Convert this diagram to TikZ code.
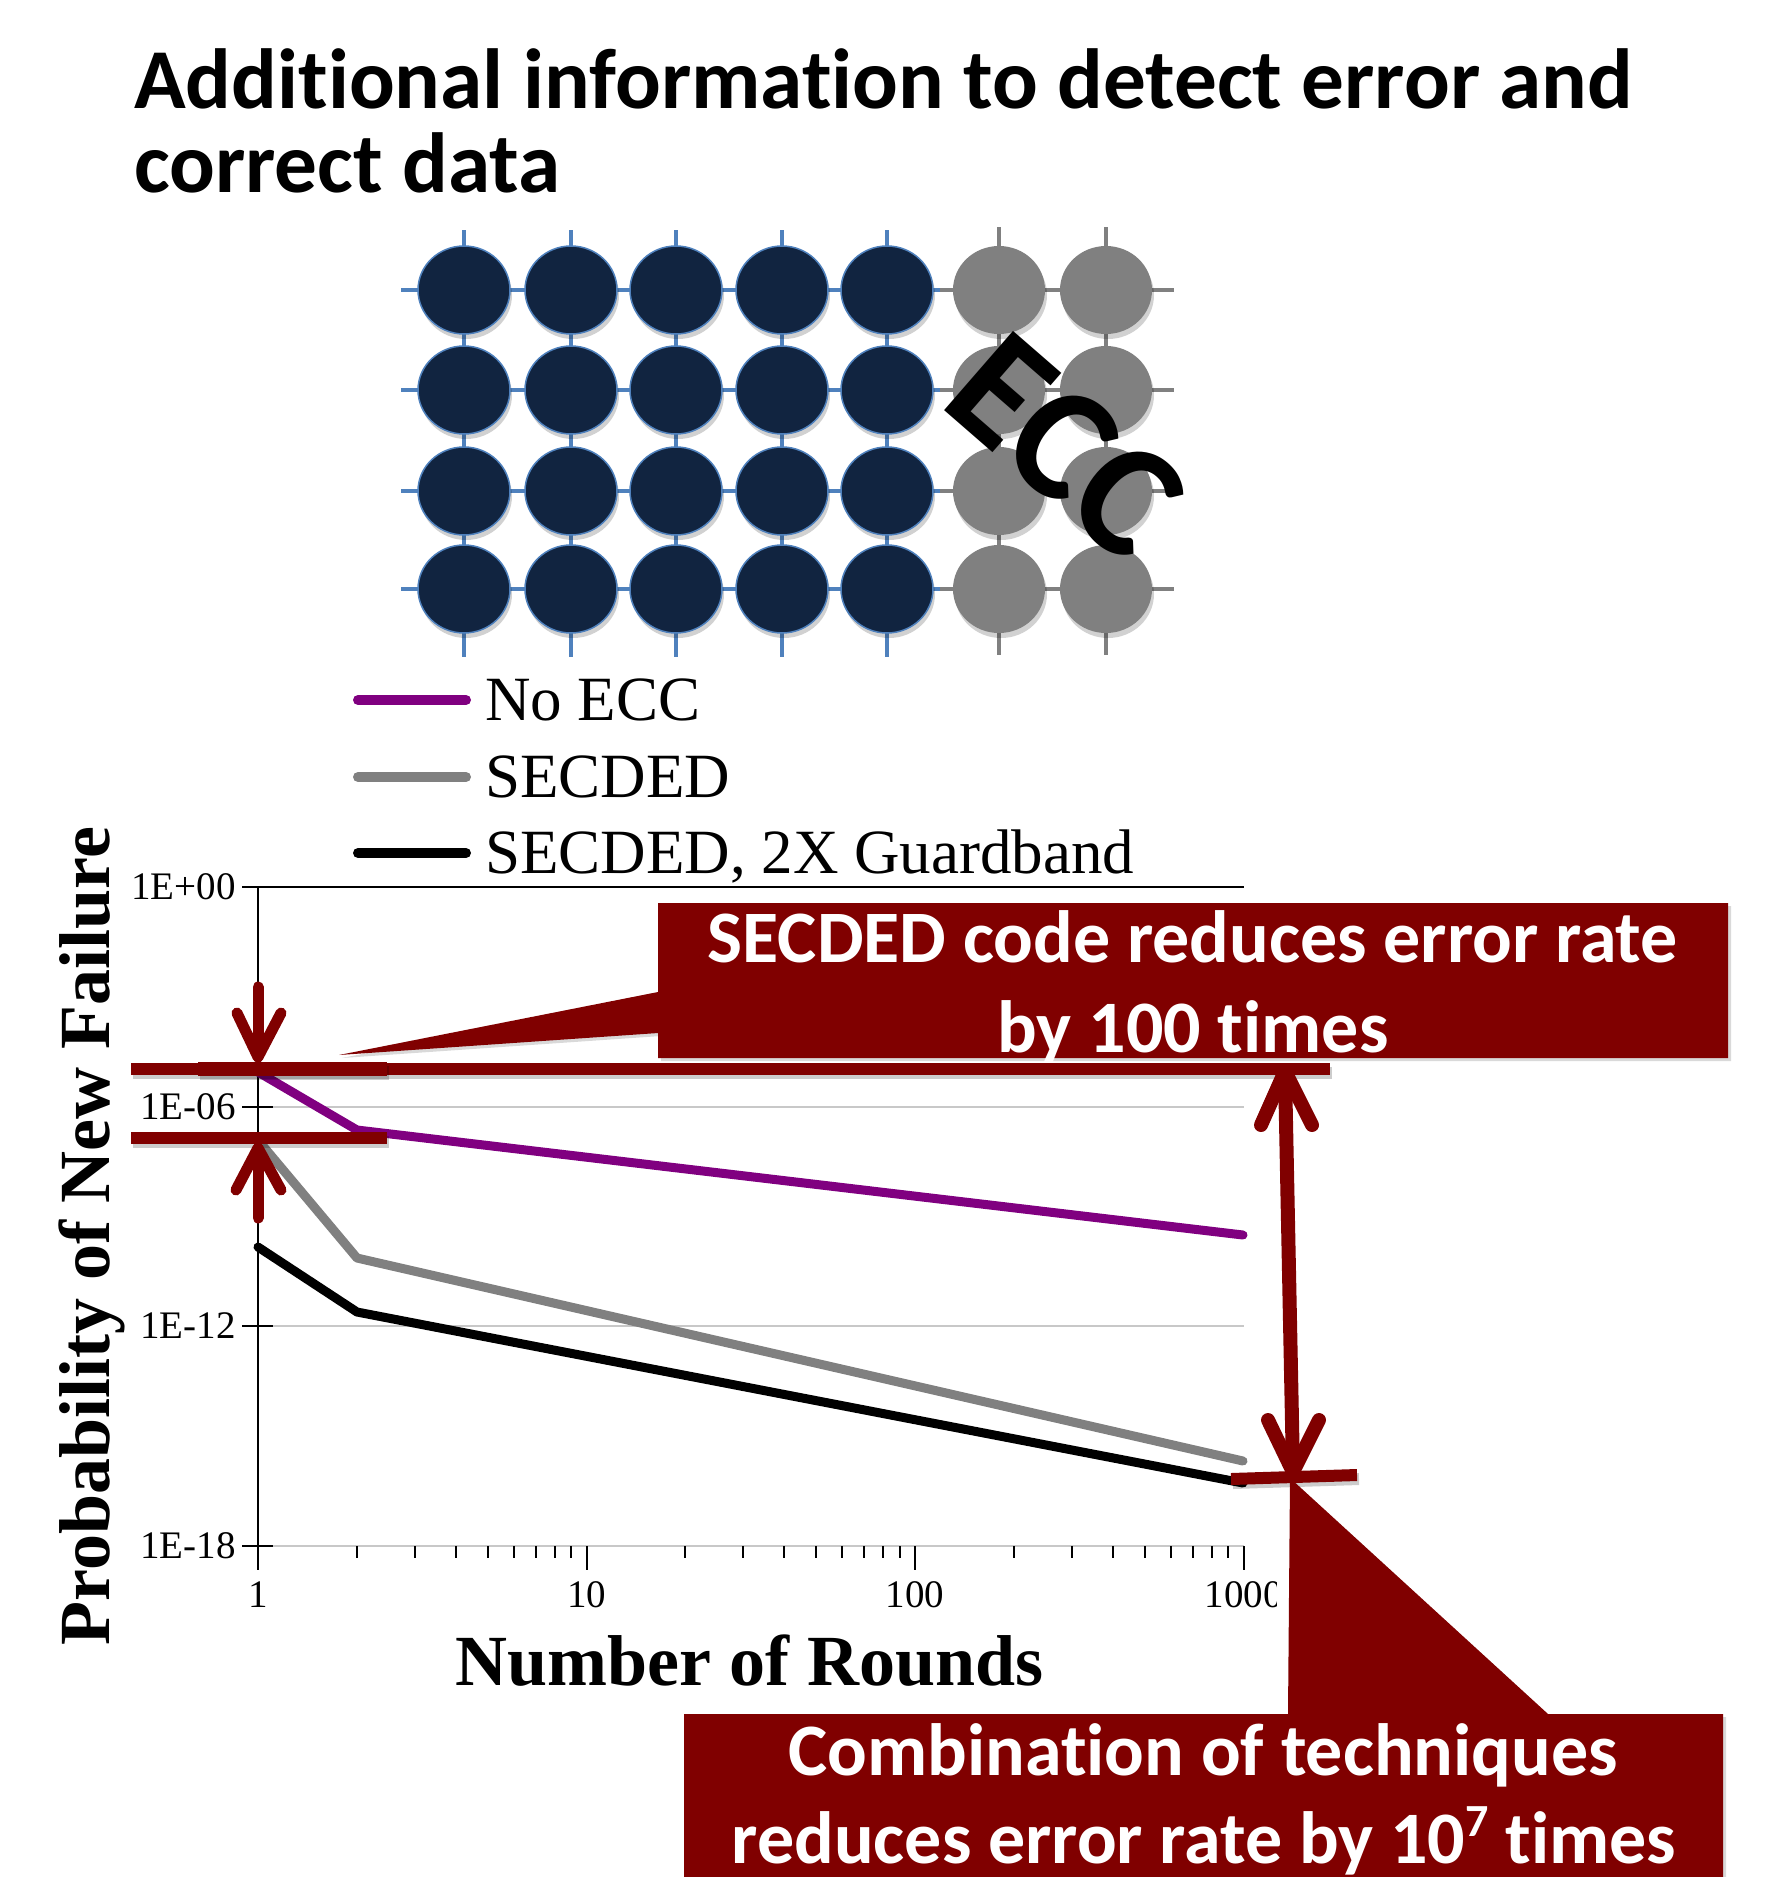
\documentclass[tikz,border=0pt]{standalone}
\usepackage{fontspec}
\setmainfont{Liberation Serif}
\newfontfamily\calib[Ligatures={NoCommon}]{Carlito}
\usetikzlibrary{shadows}
\definecolor{mred}{RGB}{128,0,0}
\definecolor{cnavy}{RGB}{17,36,64}
\definecolor{cblue}{RGB}{79,129,189}
\definecolor{cgrey}{RGB}{128,128,128}
\definecolor{cpurple}{RGB}{128,0,128}
\definecolor{cgridl}{RGB}{200,200,200}
\begin{document}
\begin{tikzpicture}[x=1pt,y=-1pt,
  titletext/.style={font=\calib\bfseries\fontsize{85.3}{85}\selectfont, anchor=base west, inner sep=0pt},
  bluegrid/.style={draw=cblue, line width=4pt},
  greygrid/.style={draw=cgrey, line width=4pt},
  navycell/.style={fill=cnavy, draw=cblue, line width=1.5pt},
  greycell/.style={fill=cgrey},
  cellshadow/.style={fill=black, opacity=0.18},
  legline/.style={line width=10pt, line cap=round},
  legtext/.style={font=\fontsize{63}{63}\selectfont, anchor=base west, inner sep=0pt},
  ticklab/.style={font=\fontsize{39}{39}\selectfont, inner sep=0pt},
  axistitle/.style={font=\bfseries\fontsize{72}{72}\selectfont, anchor=base, inner sep=0pt},
  dataline/.style={line width=9pt, line cap=round, line join=round},
  mbar/.style={draw=mred, line width=12pt},
  barshadow/.style={draw=black, opacity=0.2, line width=12pt},
  marrow/.style={draw=mred, line width=11pt, line cap=round, line join=round},
  bigarrow/.style={draw=mred, line width=14pt, line cap=round, line join=round},
  callout/.style={fill=mred, drop shadow={shadow xshift=3pt, shadow yshift=-3pt, opacity=0.3}},
  ctext/.style={font=\calib\bfseries\fontsize{74}{74}\selectfont, text=white, anchor=base, inner sep=0pt}
]
\useasboundingbox (0,0) rectangle (1770,1877);

% ---------- title ----------
\node[titletext] (t1) at (134,108) {Additional information to detect error and};
\node[titletext] (t2) at (134,192) {correct data};

% ---------- bit grid ----------
\foreach \x in {464,571,676,782,887} \draw[bluegrid] (\x,230) -- (\x,657);
\foreach \x in {999,1106} \draw[greygrid] (\x,227) -- (\x,655);
\foreach \y in {290,390,491,589} {
  \draw[bluegrid] (401,\y) -- (940,\y);
  \draw[greygrid] (940,\y) -- (1174,\y);
}
\foreach \x in {464,571,676,782,887} {
  \foreach \y in {290,390,491,589} {
    \fill[cellshadow] (\x+2,\y+5) ellipse [x radius=46, y radius=44];
    \filldraw[navycell] (\x,\y) ellipse [x radius=46, y radius=44];
  }
}
\foreach \x in {999,1106} {
  \foreach \y in {290,390,491,589} {
    \fill[cellshadow] (\x+2,\y+5) ellipse [x radius=46, y radius=44];
    \fill[greycell] (\x,\y) ellipse [x radius=46, y radius=44];
  }
}
\node[font=\calib\bfseries\fontsize{162}{162}\selectfont, rotate=-41, inner sep=0pt] (ecc) at (1066,446) {ECC};

% ---------- legend ----------
\draw[legline, cpurple] (358,700) -- (466,700);
\draw[legline, cgrey] (358,777) -- (466,777);
\draw[legline, black] (358,853) -- (466,853);
\node[legtext] (l1) at (485,720) {No ECC};
\node[legtext] (l2) at (485,797) {SECDED};
\node[legtext] (l3) at (485,873) {SECDED, 2X Guardband};

% ---------- chart ----------
\foreach \y in {1107,1326,1546} \draw[cgridl, line width=2.5pt] (258,\y) -- (1244,\y);
\draw[black, line width=2.5pt] (258,887) -- (1244,887);
\draw[black, line width=1.5pt] (258,887) -- (258,1570);
\foreach \y in {887,1107,1326,1546} \draw[black, line width=2pt] (242,\y) -- (273,\y);
\node[ticklab, anchor=base east] (y0) at (236,899) {1E+00};
\node[ticklab, anchor=base east] (y6) at (236,1119) {1E-06};
\node[ticklab, anchor=base east] (y12) at (236,1338) {1E-12};
\node[ticklab, anchor=base east] (y18) at (236,1558) {1E-18};
\foreach \d in {0,1,2} {
  \foreach \m in {2,...,9} {
    \pgfmathsetmacro{\xx}{258+328.5*(\d+log10(\m))}
    \draw[black, line width=2pt] (\xx,1546) -- (\xx,1558);
  }
}
\foreach \xx in {258,586.5,915,1243.5} \draw[black, line width=2pt] (\xx,1546) -- (\xx,1570);
\node[ticklab, anchor=base] (x1) at (258,1607) {1};
\node[ticklab, anchor=base] (x10) at (586.5,1607) {10};
\node[ticklab, anchor=base] (x100) at (915,1607) {100};
\begin{scope}
  \clip (1150,1560) rectangle (1276,1625);
  \node[ticklab, anchor=base] (x1000) at (1243.5,1607) {1000};
\end{scope}
\node[axistitle] (xt) at (750,1685) {Number of Rounds};
\node[axistitle, rotate=90] (yt) at (109,1236) {Probability of New Failure};

% data
\draw[dataline, cpurple] (258,1072) -- (357,1130) -- (1243,1235);
\draw[dataline, cgrey] (258,1140) -- (357,1258) -- (1243,1461);
\draw[dataline, black] (258,1247) -- (357,1312) -- (1243,1483);

% ---------- annotations ----------
\path[callout] (658,903) -- (1728,903) -- (1728,1058) -- (658,1058) -- (658,1033) -- (339,1055) -- (658,992) -- cycle;
\node[ctext] (c1a) at (1193,962) {SECDED code reduces error rate};
\node[ctext] (c1b) at (1193,1052) {by 100 times};

\draw[barshadow] (133,1073) -- (1332,1073);
\draw[mbar] (131,1069) -- (1330,1069);
\draw[barshadow, line width=14pt] (200,1073) -- (389,1073);
\draw[draw=mred, line width=14pt] (198,1069) -- (387,1069);
\draw[barshadow] (133,1142) -- (389,1142);
\draw[mbar] (131,1138) -- (387,1138);
\draw[barshadow] (1233,1483) -- (1359,1479);
\draw[mbar] (1231,1479) -- (1357,1475);

\draw[marrow] (258,987) -- (258,1056);
\draw[marrow] (237,1013) -- (258,1057) -- (281,1013);
\draw[marrow] (258,1218) -- (258,1149);
\draw[marrow] (236,1190) -- (258,1148) -- (281,1190);

\draw[bigarrow] (1285,1072) -- (1293,1471);
\draw[bigarrow] (1261,1125) -- (1285,1071) -- (1312,1125);
\draw[bigarrow] (1268,1420) -- (1293,1472) -- (1319,1420);

\path[callout] (684,1714) -- (1288,1714) -- (1290,1478) -- (1548,1714) -- (1723,1714) -- (1723,1895) -- (684,1895) -- cycle;
\node[ctext] (c2a) at (1203,1775) {Combination of techniques};
\node[ctext] (c2b) at (1204,1863) {reduces error rate by 10\raisebox{0.36em}{\fontsize{46}{46}\selectfont 7} times};
\end{tikzpicture}
\end{document}
